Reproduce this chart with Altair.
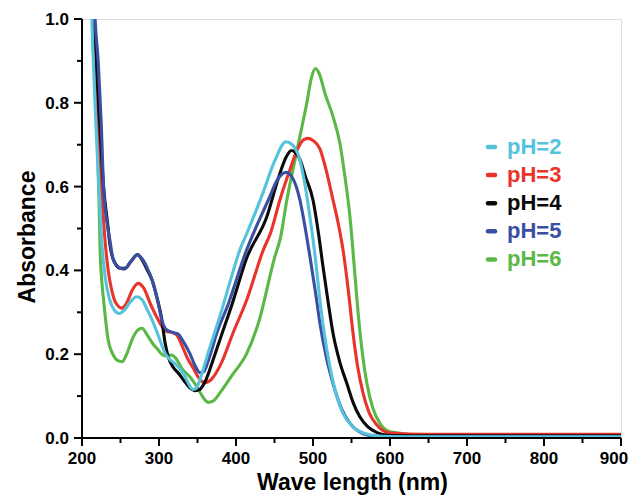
import altair as alt
import pandas as pd

# ---- data (wavelength nm, absorbance) ----
wl_ph2 = [212, 213, 214.7, 218, 222, 225.6, 230, 236, 242, 248, 255, 263, 271, 278, 285, 291, 300, 308,
          315, 321, 328, 334, 340, 344, 348, 355, 365, 379, 395, 405, 414, 435, 450, 465, 473, 483,
          490, 496, 503, 509, 515, 522, 530, 539, 550, 561, 575, 590, 620, 900]
abs_ph2 = [1.15, 1.0, 0.9, 0.75, 0.6, 0.47, 0.385, 0.33, 0.305, 0.297, 0.305, 0.325, 0.337, 0.33, 0.305,
           0.282, 0.24, 0.202, 0.186, 0.177, 0.163, 0.146, 0.124, 0.116, 0.118, 0.15, 0.21, 0.29, 0.39,
           0.449, 0.488, 0.585, 0.66, 0.707, 0.70, 0.663, 0.60, 0.528, 0.43, 0.329, 0.245, 0.17, 0.105,
           0.059, 0.03, 0.015, 0.007, 0.004, 0.003, 0.003]

wl_ph3 = [212, 215, 217, 221, 225, 230, 234, 238.6, 244, 251.5, 258, 265, 273, 280, 290, 298, 304, 310,
          317, 323, 330, 337, 344, 350, 355, 360, 368, 380, 396, 414, 435.5, 445, 457, 470, 480, 488,
          493, 500, 509, 517, 526, 533, 539, 546, 552, 558, 565, 573, 583, 600, 650, 900]
abs_ph3 = [1.2, 1.0, 0.9, 0.75, 0.6, 0.47, 0.4, 0.353, 0.322, 0.31, 0.322, 0.352, 0.369, 0.358, 0.315,
           0.285, 0.266, 0.254, 0.252, 0.246, 0.22, 0.19, 0.168, 0.148, 0.136, 0.132, 0.14, 0.175, 0.25,
           0.33, 0.449, 0.49, 0.568, 0.64, 0.69, 0.712, 0.715, 0.71, 0.69, 0.64, 0.568, 0.51, 0.449,
           0.35, 0.25, 0.17, 0.107, 0.06, 0.031, 0.012, 0.009, 0.009]

wl_ph4 = [212, 216, 218.5, 223, 228, 234, 236, 242, 250, 256, 263, 272, 278, 285, 291, 298, 303, 308,
          312, 318, 325, 332, 340, 346, 352, 360, 370, 379, 395, 414, 440, 455, 465, 472, 478, 483,
          490, 500, 507, 513, 520, 526, 535, 544, 552, 561, 571, 583, 600, 650, 900]
abs_ph4 = [1.25, 1.0, 0.9, 0.75, 0.6, 0.5, 0.465, 0.42, 0.405, 0.405, 0.42, 0.438, 0.425, 0.4, 0.377,
           0.33, 0.29, 0.226, 0.194, 0.17, 0.155, 0.138, 0.12, 0.113, 0.115, 0.135, 0.185, 0.234, 0.32,
           0.43, 0.528, 0.62, 0.67, 0.686, 0.68, 0.665, 0.625, 0.568, 0.49, 0.409, 0.32, 0.25, 0.18,
           0.13, 0.085, 0.05, 0.027, 0.013, 0.006, 0.005, 0.005]

wl_ph5 = [212, 217, 221, 225, 228, 234, 236.4, 240, 248, 255, 263, 272, 278, 285, 291, 298, 303.5, 308,
          312, 318, 325, 330, 340, 347, 353, 358, 365, 375, 390, 412, 442, 455, 465, 472, 483, 490,
          496, 503, 509, 517, 526, 537, 548, 560, 570, 590, 900]
abs_ph5 = [1.3, 1.0, 0.9, 0.75, 0.6, 0.496, 0.47, 0.43, 0.407, 0.403, 0.42, 0.437, 0.428, 0.405, 0.377,
           0.33, 0.282, 0.262, 0.256, 0.252, 0.248, 0.235, 0.202, 0.172, 0.156, 0.158, 0.19, 0.25, 0.32,
           0.44, 0.568, 0.62, 0.634, 0.625, 0.568, 0.50, 0.433, 0.35, 0.274, 0.195, 0.13, 0.07, 0.035,
           0.015, 0.007, 0.003, 0.003]

wl_ph6 = [212, 214.5, 217, 220, 222.3, 223.5, 225.5, 228, 234, 240, 246, 252, 258, 265, 272, 278, 285,
          292, 299, 305, 310, 316, 322, 330, 340, 350, 358, 364, 370, 380, 395, 414, 430, 450, 458, 466,
          475, 483, 492, 498, 503, 508, 516, 526, 535, 541, 548, 554, 559, 565, 570, 578, 587, 600, 650, 900]
abs_ph6 = [1.15, 1.0, 0.88, 0.7, 0.55, 0.45, 0.38, 0.33, 0.234, 0.2, 0.185, 0.182, 0.2, 0.235, 0.257,
           0.262, 0.245, 0.225, 0.21, 0.198, 0.196, 0.198, 0.19, 0.165, 0.146, 0.12, 0.095, 0.085, 0.088,
           0.11, 0.15, 0.202, 0.28, 0.43, 0.48, 0.568, 0.65, 0.72, 0.80, 0.86, 0.882, 0.87, 0.82, 0.767,
           0.703, 0.63, 0.528, 0.4, 0.29, 0.19, 0.13, 0.07, 0.035, 0.015, 0.006, 0.006]

labels = ["pH=2", "pH=3", "pH=4", "pH=5", "pH=6"]
colors = ["#55C3DC", "#E8342B", "#0A0A0A", "#3A4FA2", "#5BB847"]

x_major = [200, 300, 400, 500, 600, 700, 800, 900]
x_minor = [250, 350, 450, 550, 650, 750, 850]
y_major = [0.0, 0.2, 0.4, 0.6, 0.8, 1.0]
y_minor = [0.1, 0.3, 0.5, 0.7, 0.9]
x_title = "Wave length (nm)"
y_title = "Absorbance"

series = {
    "pH=2": (wl_ph2, abs_ph2),
    "pH=3": (wl_ph3, abs_ph3),
    "pH=4": (wl_ph4, abs_ph4),
    "pH=5": (wl_ph5, abs_ph5),
    "pH=6": (wl_ph6, abs_ph6),
}
color_of = dict(zip(labels, colors))

FONT = "Liberation Sans"
W, H = 539, 419
xscale = alt.Scale(domain=[200, 900], nice=False, zero=False)
yscale = alt.Scale(domain=[0, 1.0], nice=False, zero=False)

def frame(name):
    wl, ab = series[name]
    return pd.DataFrame({"wl": wl, "abs": ab, "series": name})

draw_order = ["pH=6", "pH=3", "pH=4", "pH=5", "pH=2"]
layers = []
for name in draw_order:
    layers.append(
        alt.Chart(frame(name)).mark_line(clip=True, strokeWidth=3.1, interpolate="monotone",
                                         color=color_of[name], strokeJoin="round").encode(
            x=alt.X("wl:Q", scale=xscale, axis=None),
            y=alt.Y("abs:Q", scale=yscale, axis=None),
        )
    )

one = pd.DataFrame({"k": [0]})

# axis lines
x_domain = alt.Chart(one).mark_rule(color="black", strokeWidth=2).encode(
    x=alt.value(-1), x2=alt.value(W), y=alt.value(H))
y_domain = alt.Chart(one).mark_rule(color="black", strokeWidth=2).encode(
    x=alt.value(0), y=alt.value(0), y2=alt.value(H + 1))

# tick marks (major and minor), drawn outward from the axes
def xticks(vals, length):
    return alt.Chart(pd.DataFrame({"v": vals})).mark_rule(color="black", strokeWidth=2).encode(
        x=alt.X("v:Q", scale=xscale, axis=None), y=alt.value(H), y2=alt.value(H + length))

def yticks(vals, length):
    return alt.Chart(pd.DataFrame({"v": vals})).mark_rule(color="black", strokeWidth=2).encode(
        y=alt.Y("v:Q", scale=yscale, axis=None), x=alt.value(0), x2=alt.value(-length))

tick_layers = [xticks(x_major, 8), xticks(x_minor, 5), yticks(y_major, 8), yticks(y_minor, 5)]

# tick labels
def x_label_layer(vals, dx):
    return alt.Chart(pd.DataFrame({"lab": vals})).mark_text(
        font=FONT, fontSize=17, fontWeight="bold", color="black", align="center",
        baseline="alphabetic", dx=dx).encode(
        x=alt.X("lab:Q", scale=xscale, axis=None),
        y=alt.value(H + 26),
        text=alt.Text("lab:Q", format="d"),
    )

x_labels_main = x_label_layer(x_major[:-1], 0)
x_labels_end = x_label_layer(x_major[-1:], -7)

y_labels = alt.Chart(pd.DataFrame({"lab": y_major})).mark_text(
    font=FONT, fontSize=17, fontWeight="bold", color="black", align="right",
    baseline="alphabetic", dy=6).encode(
    y=alt.Y("lab:Q", scale=yscale, axis=None),
    x=alt.value(-13),
    text=alt.Text("lab:Q", format=".1f"),
)

# axis titles
x_title_layer = alt.Chart(pd.DataFrame({"t": [x_title]})).mark_text(
    font=FONT, fontSize=23, fontWeight="bold", color="black", align="center",
    baseline="alphabetic").encode(x=alt.value(W / 2 + 1), y=alt.value(H + 52), text="t:N")
y_title_layer = alt.Chart(pd.DataFrame({"t": [y_title]})).mark_text(
    font=FONT, fontSize=23, fontWeight="bold", color="black", align="center",
    baseline="alphabetic", angle=270).encode(x=alt.value(-47), y=alt.value(218), text="t:N")

# legend
legend_df = pd.DataFrame({"label": labels, "row": list(range(len(labels)))})
legend_base = alt.Chart(legend_df).transform_calculate(ypix="128 + 28.1 * datum.row")
legend_color = alt.Color("label:N", scale=alt.Scale(domain=labels, range=colors), legend=None)

legend_sym = legend_base.mark_rule(strokeWidth=4.5, strokeCap="round").encode(
    x=alt.value(406), x2=alt.value(413),
    y=alt.Y("ypix:Q", scale=None),
    color=legend_color,
)
legend_txt = legend_base.mark_text(align="left", baseline="middle", font=FONT, fontSize=22,
                                   fontWeight="bold").encode(
    x=alt.value(425),
    y=alt.Y("ypix:Q", scale=None),
    text="label:N",
    color=legend_color,
)

chart = alt.layer(*layers, x_domain, y_domain, *tick_layers, x_labels_main, x_labels_end, y_labels,
                  x_title_layer, y_title_layer, legend_sym, legend_txt).properties(
    width=W, height=H,
    autosize=alt.AutoSizeParams(type="none"),
    padding={"left": 74, "top": 11, "right": 7, "bottom": 58},
).configure_view(
    stroke="#9a9a9a", strokeWidth=1.5
).configure(background="white")

chart.save("out.html", embed_options={"renderer": "svg", "actions": False})
